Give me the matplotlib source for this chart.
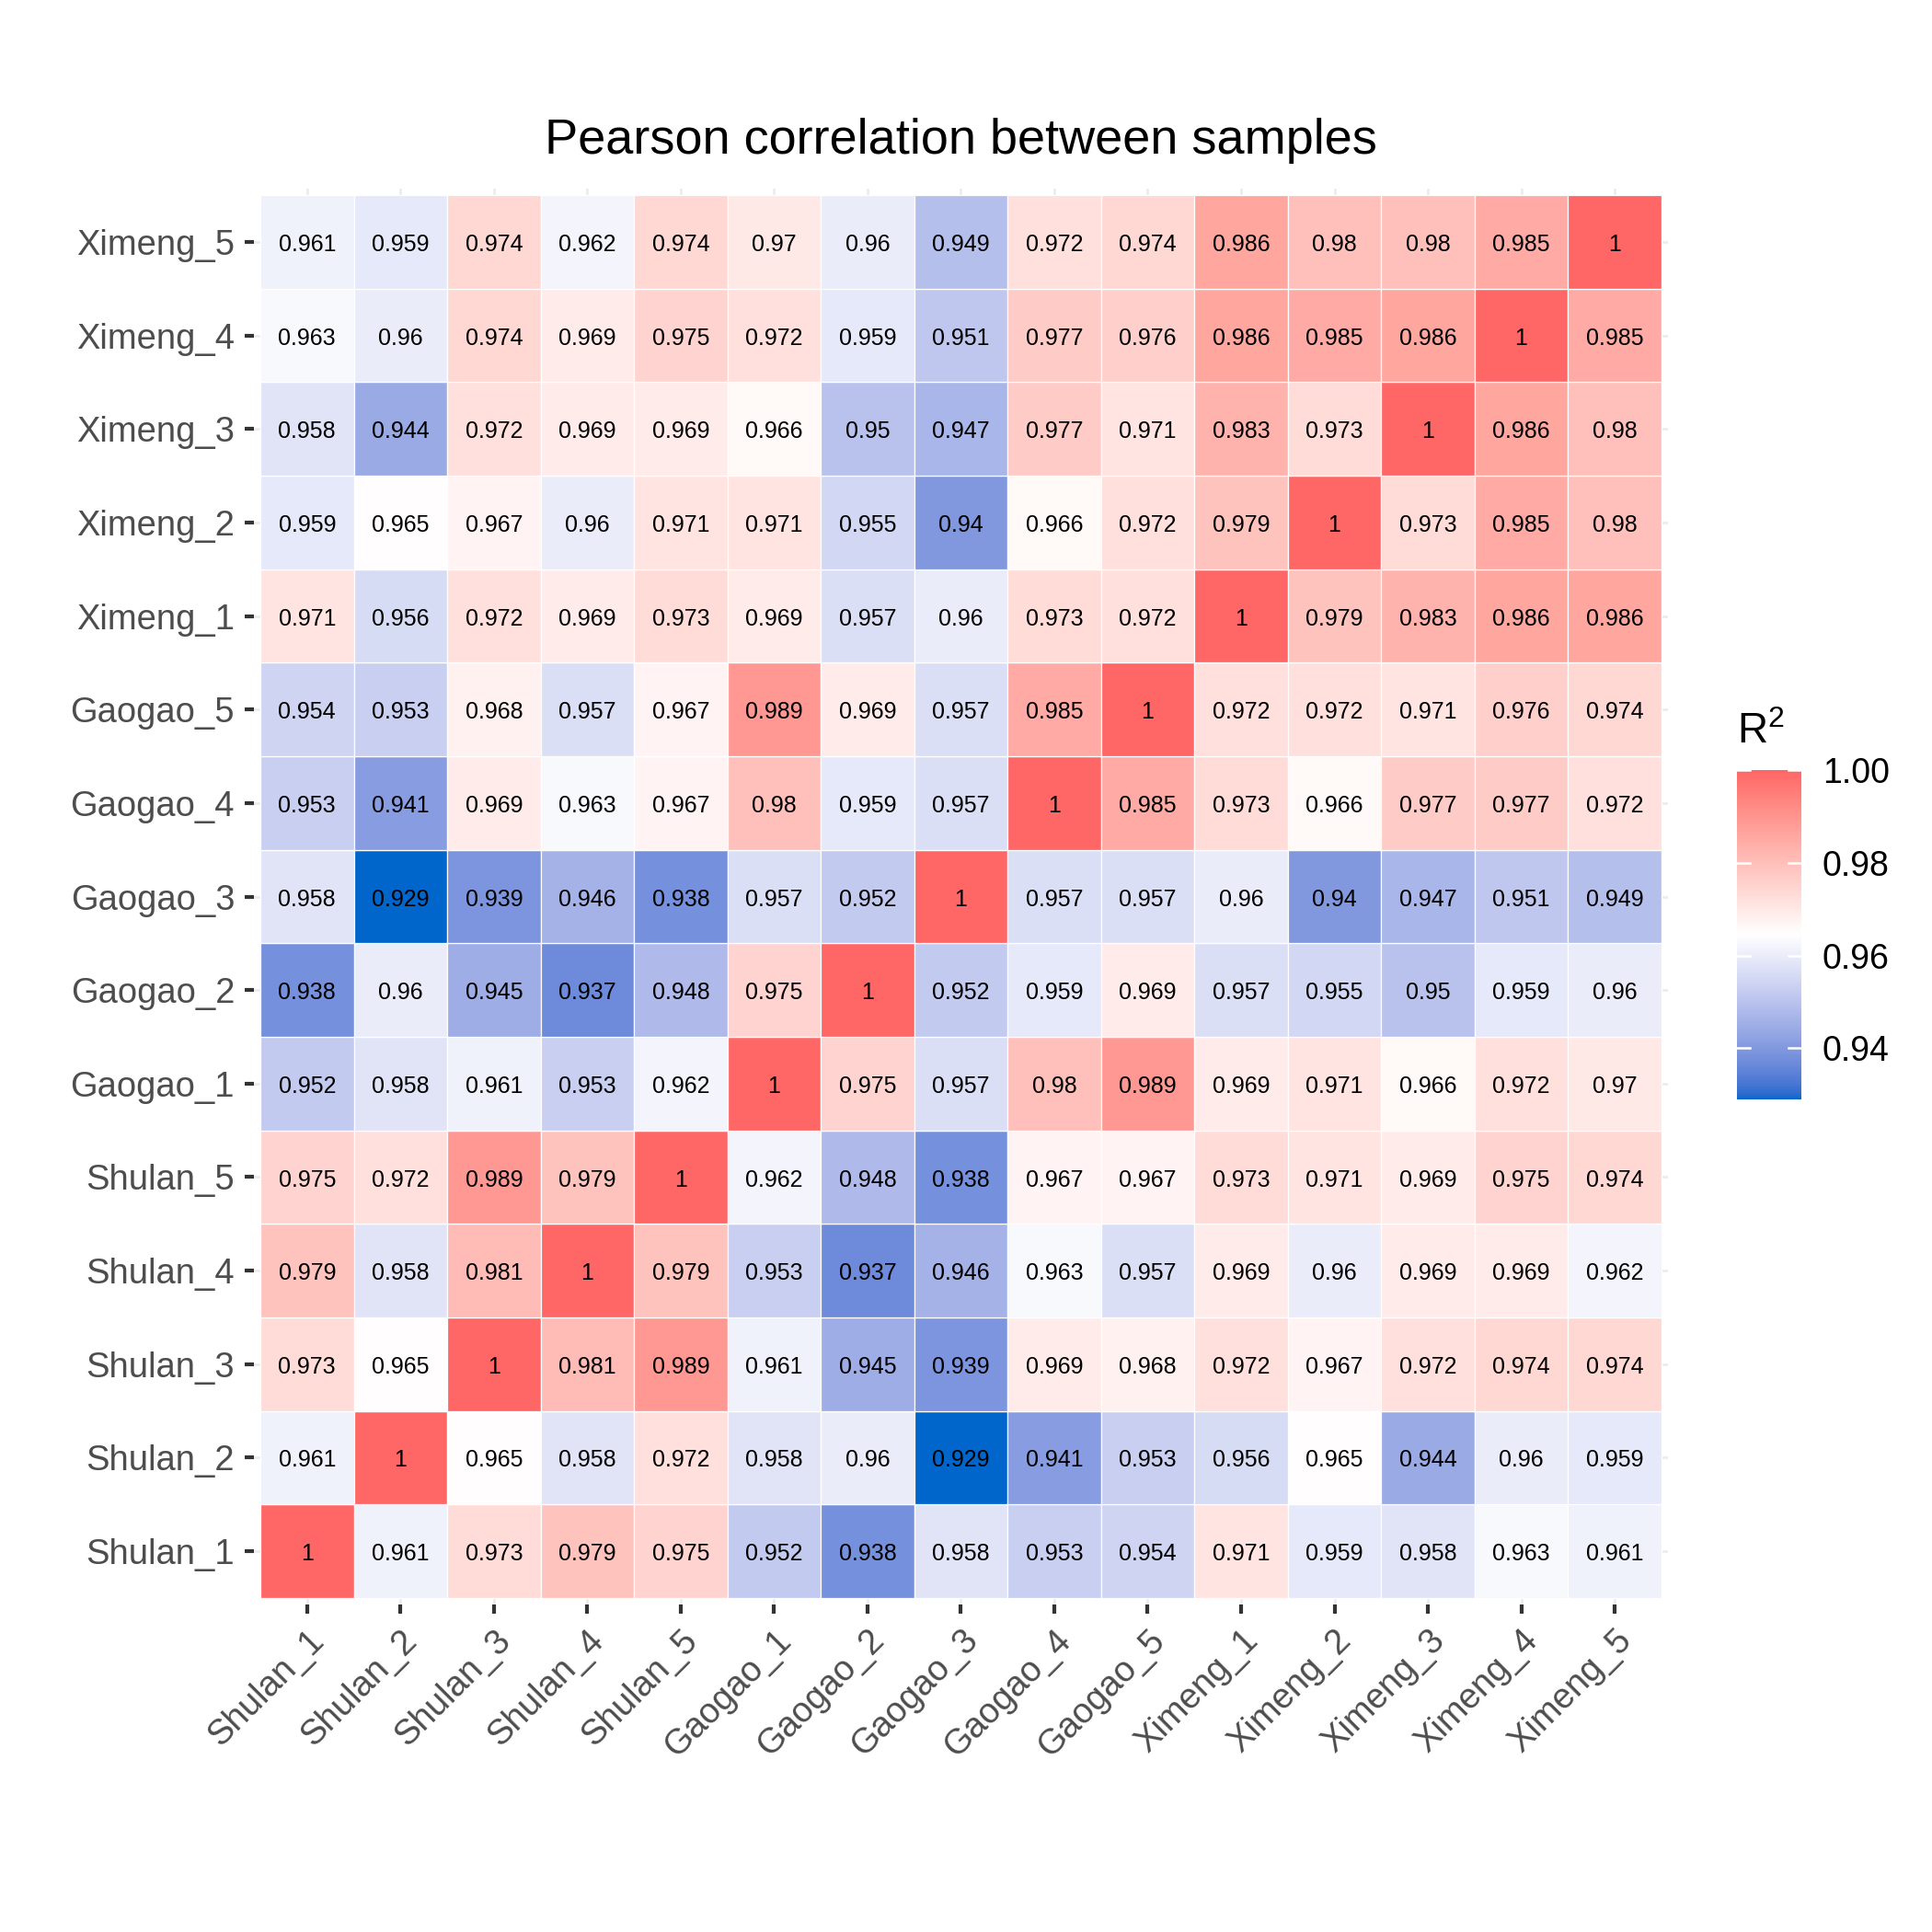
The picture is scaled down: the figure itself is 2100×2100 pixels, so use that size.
import numpy as np
import matplotlib
matplotlib.use('Agg')
import matplotlib.pyplot as plt
from matplotlib.colors import ListedColormap, Normalize
from matplotlib.cm import ScalarMappable

plt.rcParams['font.family'] = ['Liberation Sans', 'DejaVu Sans']
plt.rcParams['mathtext.fontset'] = 'custom'
plt.rcParams['mathtext.rm'] = 'Liberation Sans'

samples = ['Shulan_1', 'Shulan_2', 'Shulan_3', 'Shulan_4', 'Shulan_5',
           'Gaogao_1', 'Gaogao_2', 'Gaogao_3', 'Gaogao_4', 'Gaogao_5',
           'Ximeng_1', 'Ximeng_2', 'Ximeng_3', 'Ximeng_4', 'Ximeng_5']

# one row per sample, columns in the same order
r_shulan_1 = [1, 0.961, 0.973, 0.979, 0.975, 0.952, 0.938, 0.958, 0.953, 0.954, 0.971, 0.959, 0.958, 0.963, 0.961]
r_shulan_2 = [0.961, 1, 0.965, 0.958, 0.972, 0.958, 0.96, 0.929, 0.941, 0.953, 0.956, 0.965, 0.944, 0.96, 0.959]
r_shulan_3 = [0.973, 0.965, 1, 0.981, 0.989, 0.961, 0.945, 0.939, 0.969, 0.968, 0.972, 0.967, 0.972, 0.974, 0.974]
r_shulan_4 = [0.979, 0.958, 0.981, 1, 0.979, 0.953, 0.937, 0.946, 0.963, 0.957, 0.969, 0.96, 0.969, 0.969, 0.962]
r_shulan_5 = [0.975, 0.972, 0.989, 0.979, 1, 0.962, 0.948, 0.938, 0.967, 0.967, 0.973, 0.971, 0.969, 0.975, 0.974]
r_gaogao_1 = [0.952, 0.958, 0.961, 0.953, 0.962, 1, 0.975, 0.957, 0.98, 0.989, 0.969, 0.971, 0.966, 0.972, 0.97]
r_gaogao_2 = [0.938, 0.96, 0.945, 0.937, 0.948, 0.975, 1, 0.952, 0.959, 0.969, 0.957, 0.955, 0.95, 0.959, 0.96]
r_gaogao_3 = [0.958, 0.929, 0.939, 0.946, 0.938, 0.957, 0.952, 1, 0.957, 0.957, 0.96, 0.94, 0.947, 0.951, 0.949]
r_gaogao_4 = [0.953, 0.941, 0.969, 0.963, 0.967, 0.98, 0.959, 0.957, 1, 0.985, 0.973, 0.966, 0.977, 0.977, 0.972]
r_gaogao_5 = [0.954, 0.953, 0.968, 0.957, 0.967, 0.989, 0.969, 0.957, 0.985, 1, 0.972, 0.972, 0.971, 0.976, 0.974]
r_ximeng_1 = [0.971, 0.956, 0.972, 0.969, 0.973, 0.969, 0.957, 0.96, 0.973, 0.972, 1, 0.979, 0.983, 0.986, 0.986]
r_ximeng_2 = [0.959, 0.965, 0.967, 0.96, 0.971, 0.971, 0.955, 0.94, 0.966, 0.972, 0.979, 1, 0.973, 0.985, 0.98]
r_ximeng_3 = [0.958, 0.944, 0.972, 0.969, 0.969, 0.966, 0.95, 0.947, 0.977, 0.971, 0.983, 0.973, 1, 0.986, 0.98]
r_ximeng_4 = [0.963, 0.96, 0.974, 0.969, 0.975, 0.972, 0.959, 0.951, 0.977, 0.976, 0.986, 0.985, 0.986, 1, 0.985]
r_ximeng_5 = [0.961, 0.959, 0.974, 0.962, 0.974, 0.97, 0.96, 0.949, 0.972, 0.974, 0.986, 0.98, 0.98, 0.985, 1]

corr = np.array([r_shulan_1, r_shulan_2, r_shulan_3, r_shulan_4, r_shulan_5,
                 r_gaogao_1, r_gaogao_2, r_gaogao_3, r_gaogao_4, r_gaogao_5,
                 r_ximeng_1, r_ximeng_2, r_ximeng_3, r_ximeng_4, r_ximeng_5])


# ggplot-like diverging gradient, interpolated in CIELAB
def srgb_to_lab(c):
    c = np.asarray(c, float)
    lin = np.where(c <= 0.04045, c / 12.92, ((c + 0.055) / 1.055) ** 2.4)
    M = np.array([[0.4124, 0.3576, 0.1805],
                  [0.2126, 0.7152, 0.0722],
                  [0.0193, 0.1192, 0.9505]])
    xyz = M @ lin / np.array([0.95047, 1.0, 1.08883])
    f = np.where(xyz > 0.008856, np.cbrt(xyz), 7.787 * xyz + 16 / 116)
    return np.array([116 * f[1] - 16, 500 * (f[0] - f[1]), 200 * (f[1] - f[2])])


def lab_to_srgb(lab):
    L, a, b = lab
    fy = (L + 16) / 116
    fx = fy + a / 500
    fz = fy - b / 200
    f = np.array([fx, fy, fz])
    xyz = np.where(f ** 3 > 0.008856, f ** 3, (f - 16 / 116) / 7.787)
    xyz = xyz * np.array([0.95047, 1.0, 1.08883])
    Minv = np.array([[3.2406, -1.5372, -0.4986],
                     [-0.9689, 1.8758, 0.0415],
                     [0.0557, -0.2040, 1.0570]])
    lin = Minv @ xyz
    c = np.where(lin <= 0.0031308, 12.92 * lin, 1.055 * np.clip(lin, 0, None) ** (1 / 2.4) - 0.055)
    return np.clip(c, 0, 1)


low = srgb_to_lab([0 / 255, 102 / 255, 204 / 255])
mid = srgb_to_lab([1, 1, 1])
high = srgb_to_lab([255 / 255, 102 / 255, 102 / 255])
cols = []
for t in np.linspace(0, 1, 256):
    if t < 0.5:
        u = (t * 2) ** 0.88
        cols.append(lab_to_srgb(low + (mid - low) * u))
    else:
        cols.append(lab_to_srgb(mid + (high - mid) * (t - 0.5) * 2))
cmap = ListedColormap(cols)
vmin, vmax = corr.min(), corr.max()
norm = Normalize(vmin, vmax)

fig = plt.figure(figsize=(7, 7), dpi=300)
ax = fig.add_axes([0.1314, 0.1695, 0.7319, 0.7329])
n = len(samples)
ext = 0.07
ax.set_xlim(-0.5 - ext, n - 0.5 + ext)
ax.set_ylim(-0.5 - ext, n - 0.5 + ext)
for k in range(n):
    ax.axvline(k, color='#EBEBEB', lw=0.6, zorder=0)
    ax.axhline(k, color='#EBEBEB', lw=0.6, zorder=0)

for i in range(n):
    for j in range(n):
        v = corr[i, j]
        ax.add_patch(plt.Rectangle((j - 0.5, i - 0.5), 1, 1, facecolor=cmap(norm(v)),
                                   edgecolor='white', lw=0.3, zorder=1))
        ax.text(j, i - 0.03, f'{v:g}', ha='center', va='center', fontsize=6.0, color='black', zorder=2)

for s in ax.spines.values():
    s.set_visible(False)
ax.set_xticks(range(n))
ax.set_yticks(range(n))
ax.set_xticklabels(samples, rotation=45, ha='right', va='top', rotation_mode='anchor')
ax.set_yticklabels(samples)
ax.tick_params(axis='both', length=2.4, width=1.0, color='#333333', labelcolor='#4D4D4D',
               labelsize=9.15, pad=2.6)
ax.set_title('Pearson correlation between samples', fontsize=13, pad=9)

cax = fig.add_axes([0.899, 0.431, 0.0333, 0.1705])
cb = fig.colorbar(ScalarMappable(norm=norm, cmap=cmap), cax=cax)
cb.outline.set_visible(False)
cb.set_ticks([0.94, 0.96, 0.98, 1.00])
cb.set_ticklabels(['0.94', '0.96', '0.98', '1.00'])
cax.tick_params(length=0, labelsize=9, pad=5.5, labelcolor='black')
for t in [0.94, 0.96, 0.98, 1.00]:
    cax.plot([0, 0.2], [t, t], color='white', lw=0.6)
    cax.plot([0.8, 1], [t, t], color='white', lw=0.6)
cax.set_xlim(0, 1)
fig.text(0.899, 0.44 + 0.1705, 'R$^{\\mathrm{2}}$', fontsize=11, ha='left', va='bottom')

fig.savefig('out.png', dpi=300)
